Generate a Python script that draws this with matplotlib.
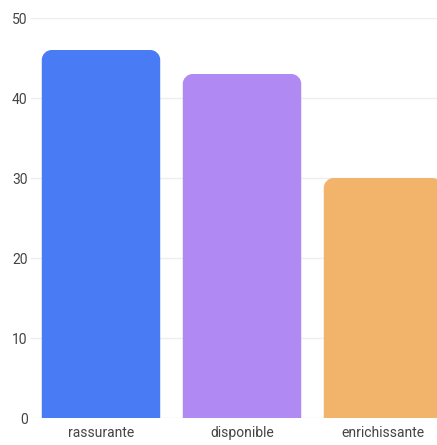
import matplotlib
matplotlib.use("Agg")
import matplotlib.pyplot as plt
from matplotlib.path import Path
from matplotlib.patches import PathPatch
from matplotlib.transforms import IdentityTransform

categories = ["rassurante", "disponible", "enrichissante"]
values = [46, 43, 30]
colors = ["#497bf5", "#b089f2", "#f2b36a"]
yticks = [0, 10, 20, 30, 40, 50]

plt.rcParams['font.family'] = ['Roboto', 'DejaVu Sans']

W, H = 437, 445
fig = plt.figure(figsize=(W / 100, H / 100), dpi=100)
left, bottom, width, height = 30.5, 27, 423, 400
ax = fig.add_axes([left / W, bottom / H, width / W, height / H])

x = list(range(len(categories)))
bars = ax.bar(x, values, width=0.84, color=colors, zorder=2)
ax.set_xlim(-0.5, len(categories) - 0.5)
ax.set_ylim(0, 50)
ax.set_yticks(yticks)
ax.set_xticks(x)
ax.set_xticklabels(categories)
ax.grid(axis="y", color="#eeeeee", linewidth=1, zorder=0)
for s in ax.spines.values():
    s.set_visible(False)
ax.tick_params(axis="both", length=0, labelsize=10, colors="#444444")
ax.tick_params(axis="x", pad=6)
ax.tick_params(axis="y", pad=2)

fig.canvas.draw()
r = 10
for b in bars:
    x0, y0 = b.get_x(), b.get_y()
    x1, y1 = x0 + b.get_width(), y0 + b.get_height()
    (px0, py0), (px1, py1) = ax.transData.transform([(x0, y0), (x1, y1)])
    k = 0.5523 * r
    verts = [
        (px0, py0), (px0, py1 - r),
        (px0, py1 - r + k), (px0 + r - k, py1), (px0 + r, py1),
        (px1 - r, py1),
        (px1 - r + k, py1), (px1, py1 - r + k), (px1, py1 - r),
        (px1, py0), (px0, py0)
    ]
    codes = [Path.MOVETO, Path.LINETO,
             Path.CURVE4, Path.CURVE4, Path.CURVE4,
             Path.LINETO,
             Path.CURVE4, Path.CURVE4, Path.CURVE4,
             Path.LINETO, Path.CLOSEPOLY]
    patch = PathPatch(Path(verts, codes), facecolor=b.get_facecolor(),
                      edgecolor="none", transform=IdentityTransform(), zorder=2)
    fig.add_artist(patch)
    b.set_visible(False)

fig.savefig("out.png", dpi=100)
